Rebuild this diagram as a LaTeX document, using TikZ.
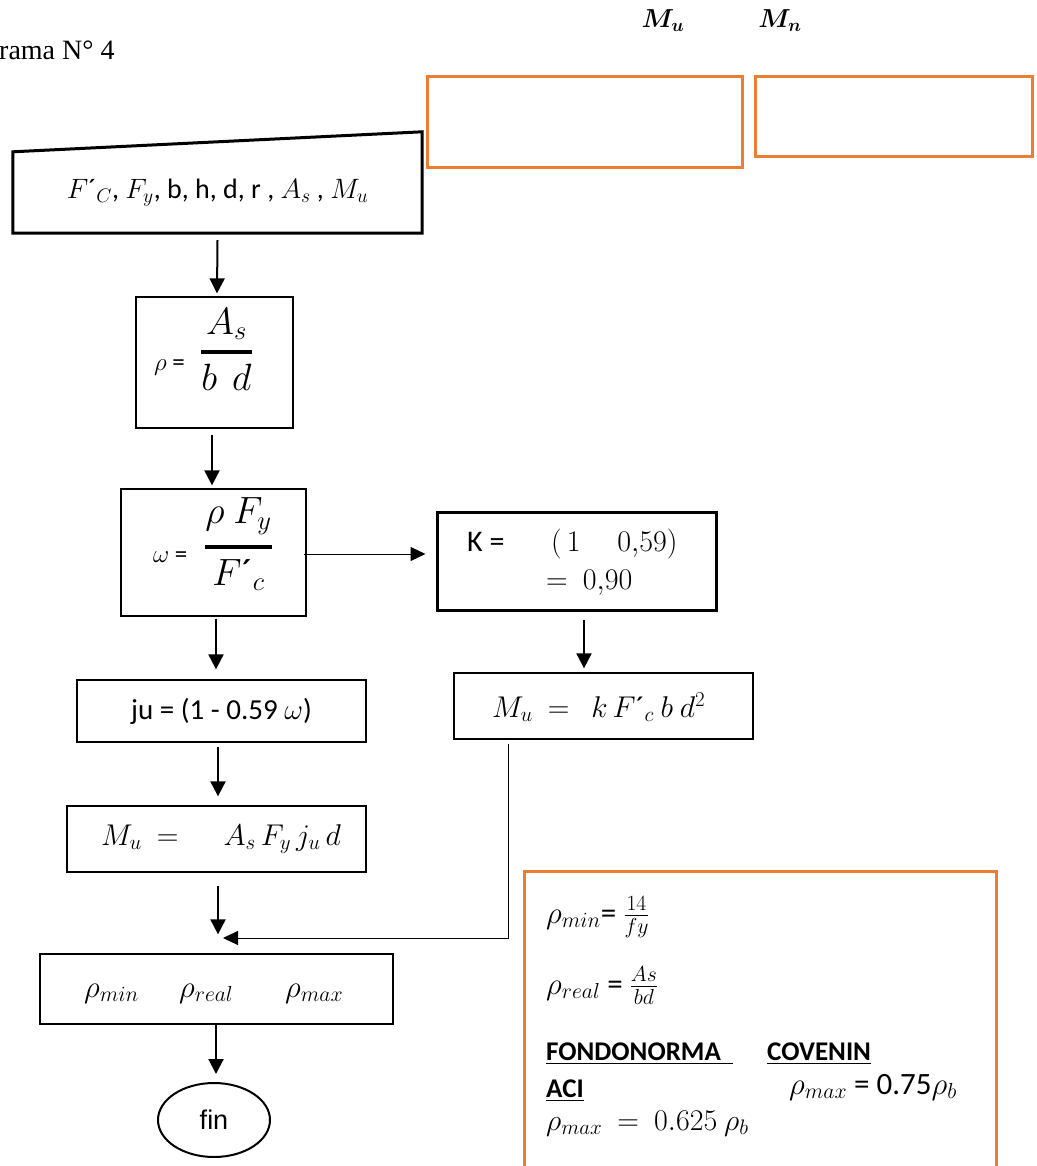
\RequirePackage{fix-cm}
\documentclass[tikz,border=0pt]{standalone}
\usepackage{amsmath}
\usepackage[no-math]{fontspec}
\setmainfont{Carlito}
\newfontfamily\timesf{Liberation Serif}
\newfontfamily\arialf{Liberation Sans}
\usetikzlibrary{arrows.meta,calc,shapes.geometric}
\definecolor{ora}{HTML}{ED7D31}
\newcommand\fsz[2]{\fontsize{#1}{#2}\selectfont}
\newcommand\acu{\mbox{´}}
\begin{document}
\begin{tikzpicture}[x=1pt,y=-1pt,
  box/.style={draw, line width=1.3pt, inner sep=0pt},
  obox/.style={draw=ora, line width=3pt, inner sep=0pt},
  arr/.style={line width=2pt, -{Triangle[length=15pt,width=15pt]}},
  tarr/.style={line width=1pt, -{Triangle[length=15pt,width=14pt]}},
  txt/.style={anchor=base west, inner sep=0pt},
  ctxt/.style={anchor=base, inner sep=0pt}]
\useasboundingbox (0,0) rectangle (1036,1166);

% header
\node[txt, font=\timesf\fsz{28}{32}] (title) at (-1,60) {rama N° 4};
\node[ctxt, font=\fsz{26}{30}\boldmath] (lmu) at (663,28) {$M_u$};
\node[ctxt, font=\fsz{26}{30}\boldmath] (lmn) at (780,28) {$M_n$};
\node[obox, minimum width=315, minimum height=91] (oa) at (584.5,122.5) {};
\node[obox, minimum width=277, minimum height=80] (ob) at (893.5,117) {};

% input (manual input shape)
\node[inner sep=0pt, minimum width=409, minimum height=81, font=\fsz{28}{32}] (inp) at (217.5,192.5)
  {$F\acu_C$, $F_y$, b, h, d, r , $A_s$ , $M_u$};
\draw[line width=3pt, line join=miter] (inp.south west) -- (inp.north west) -- ($(inp.north east)+(0,-20)$) -- (inp.south east) -- cycle;

% left column
\node[box, minimum width=157, minimum height=131] (rho) at (214.5,362.5) {};
\node[txt, font=\fsz{25}{28}] (rhol) at (154,370) {$\rho$ =};
\node[ctxt, font=\fsz{38}{44}] (rhof) at (226.5,361.5) {$\genfrac{}{}{3.5pt}{0}{A_s}{b\ \,d}$};

\node[box, minimum width=185, minimum height=127] (omg) at (213.5,552.5) {};
\node[txt, font=\fsz{25}{28}] (omgl) at (153,562) {$\omega$ =};
\node[ctxt, font=\fsz{38}{44}] (omgf) at (238.5,556.5) {$\genfrac{}{}{3.5pt}{0}{\rho\ F_y}{F\acu_c}$};

\node[box, minimum width=289, minimum height=62, font=\fsz{29}{34}] (ju) at (221.5,711)
  {ju = (1 - 0.59 $\omega$)};
\node[box, minimum width=299, minimum height=66] (mul) at (216.5,839) {};
\node[txt, font=\fsz{30}{34}] (mult) at (101,845) {$M_u\ =\quad\ A_s\,F_y\,j_u\,d$};

\node[box, minimum width=353, minimum height=70] (rows) at (216.5,989) {};
\node[txt, font=\fsz{31}{34}] (r1) at (84,997) {$\rho_{min}$};
\node[txt, font=\fsz{31}{34}] (r2) at (179,997) {$\rho_{real}$};
\node[txt, font=\fsz{31}{34}] (r3) at (285,997) {$\rho_{max}$};

\node[draw, ellipse, line width=2pt, inner sep=0pt, minimum width=112, minimum height=74, font=\arialf\fsz{27}{30}] (fin) at (214,1120) {fin};

% right column
\node[box, line width=3pt, minimum width=279, minimum height=98] (K) at (576.5,561) {};
\node[txt, font=\fsz{30}{34}] (k1) at (467,551) {K =};
\node[txt, font=\fsz{30}{34}] (k2) at (551,551) {$(\,1\quad\ 0{,}59)$};
\node[txt, font=\fsz{30}{34}] (k3) at (546,589) {$=\ 0{,}90$};

\node[box, minimum width=299, minimum height=66] (mur) at (603.5,706) {};
\node[txt, font=\fsz{30}{34}] (murt) at (492,717) {$M_u\ =\ \ k\,F\acu_c\ b\ d^2$};

% connectors
\draw[arr] ($(inp.south)+(0,7)$) -- ($(rho.north)+(2.5,-3)$);
\draw[arr] ($(rho.south)+(-2.5,6)$) -- ($(omg.north)+(-1.5,-3)$);
\draw[tarr] ($(omg.east)+(-3,1.5)$) -- ($(K.west)+(-10,-7)$);
\draw[arr] ($(omg.south)+(2.5,2)$) -- ($(ju.north)+(-5.5,-10)$);
\draw[arr] ($(ju.south)+(-3.5,4)$) -- ($(mul.north)+(1.5,-9)$);
\draw[arr] ($(K.south)+(7.5,8)$) -- ($(mur.north)+(-19.5,-4)$);
\draw[arr] ($(mul.south)+(1.5,13)$) -- ($(rows.north)+(1.5,-19)$);
\coordinate (mrg) at (223,938);
\draw[tarr] ($(mur.south)+(-95.5,4)$) |- (mrg);
\draw[arr] ($(rows.south)+(-0.5,0)$) -- ($(fin.north)+(2,-8)$);

% notes box
\node[inner sep=0pt, minimum width=471, minimum height=318] (notes) at (760.5,1031) {};
\draw[draw=ora, line width=3pt] (notes.south west) -- (notes.north west) -- (notes.north east) -- (notes.south east);
\node[txt, font=\fsz{31}{34}] (pmin) at (546,923) {$\rho_{min}$= $\frac{14}{fy}$};
\node[txt, font=\fsz{31}{34}] (preal) at (546,994) {$\rho_{real}$ = $\frac{As}{bd}$};
\node[txt, font=\fsz{27}{30}\bfseries] (fondo) at (546,1060) {\underline{FONDONORMA\ \ }};
\node[txt, font=\fsz{27}{30}\bfseries] (coven) at (767,1060) {\underline{COVENIN}};
\node[txt, font=\fsz{27}{30}\bfseries] (aci) at (546,1097) {\underline{ACI}};
\node[txt, font=\fsz{31}{34}] (pmax2) at (789,1094) {$\rho_{max}$ = 0.75$\rho_b$};
\node[txt, font=\fsz{30}{34}] (pmax1) at (546,1130) {$\rho_{max}\ =\ 0.625\ \rho_b$};
\end{tikzpicture}
\end{document}
